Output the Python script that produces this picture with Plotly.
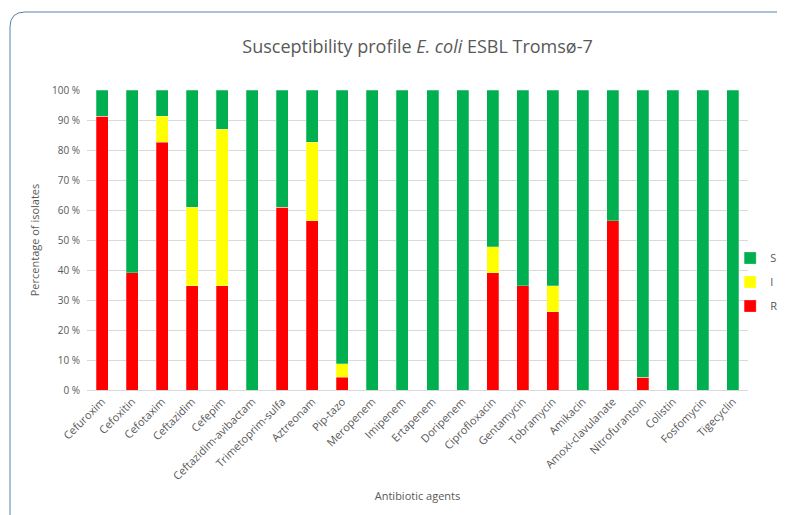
import plotly.graph_objects as go

antibiotics = [
    'Cefuroxim', 'Cefoxitin', 'Cefotaxim', 'Ceftazidim', 'Cefepim',
    'Ceftazidim-avibactam', 'Trimetoprim-sulfa', 'Aztreonam', 'Pip-tazo',
    'Meropenem', 'Imipenem', 'Ertapenem', 'Doripenem', 'Ciprofloxacin',
    'Gentamycin', 'Tobramycin', 'Amikacin', 'Amoxi-clavulanate',
    'Nitrofurantoin', 'Colistin', 'Fosfomycin', 'Tigecyclin',
]

resistant    = [91.3, 39.1, 82.6, 34.8, 34.8, 0, 60.9, 56.5, 4.3, 0, 0, 0, 0, 39.1, 34.8, 26.1, 0, 56.5, 4.3, 0, 0, 0]
intermediate = [0, 0, 8.7, 26.1, 52.2, 0, 0, 26.1, 4.4, 0, 0, 0, 0, 8.7, 0, 8.7, 0, 0, 0, 0, 0, 0]
susceptible  = [8.7, 60.9, 8.7, 39.1, 13.0, 100, 39.1, 17.4, 91.3, 100, 100, 100, 100, 52.2, 65.2, 65.2, 100, 43.5, 95.7, 100, 100, 100]

# name, values, colour, legend rank (S on top like the original)
series = [
    ('R', resistant, '#FF0000', 3),
    ('I', intermediate, '#FFFF00', 2),
    ('S', susceptible, '#00B050', 1),
]

grey = '#595959'
font = 'Open Sans'

# the page puts the figure 8px in from the top/left corner
ml, mt, pw, ph = 79, 82, 661, 300

fig = go.Figure(
    data = [go.Bar(
        name         = name,
        x            = antibiotics,
        y            = values,
        marker_color = color,
        marker_line  = dict(color='rgba(255,255,255,0.5)', width=0.5),
        legendgroup  = name,
        legendrank   = rank)

        for name, values, color, rank in series
    ]
)

fig.update_layout(
    barmode       = 'stack',
    bargap        = 0.6,
    width         = 785,
    height        = 515,
    margin        = dict(l=ml, r=785 - ml - pw, t=mt, b=515 - mt - ph, autoexpand=False),
    paper_bgcolor = 'white',
    plot_bgcolor  = 'white',
    font          = dict(family=font, color=grey, size=10),
    title         = dict(
        text    = 'Susceptibility profile <i>E. coli</i> ESBL Tromsø-7',
        x       = 0.5,
        xref    = 'paper',
        y       = 1 - 39 / 515,
        yanchor = 'middle',
        font    = dict(size=18, color=grey, family=font),
    ),
    legend        = dict(
        x              = 0.973,
        xanchor        = 'left',
        y              = 0.36,
        yanchor        = 'middle',
        traceorder     = 'grouped',
        tracegroupgap  = 5,
        font           = dict(size=11, color=grey),
        bgcolor        = 'rgba(0,0,0,0)',
    ),
    showlegend    = True,
)

fig.update_yaxes(
    range              = [0, 100],
    dtick              = 10,
    ticksuffix         = ' %',
    gridcolor          = '#D9D9D9',
    gridwidth          = 1,
    zeroline           = False,
    showline           = False,
    ticklabelstandoff  = 6,
    tickfont           = dict(size=10, color=grey),
    title              = dict(text='Percentage of isolates', font=dict(size=11, color=grey), standoff=10),
)

fig.update_xaxes(
    tickangle = -45,
    showline  = True,
    linecolor = '#D9D9D9',
    tickfont  = dict(size=11, color=grey),
    title     = dict(text='Antibiotic agents', font=dict(size=11, color=grey), standoff=10),
)

# rounded chart frame (left and top edges only, the rest is cut off)
x0, x1 = (2 - ml) / pw, (800 - ml) / pw
y0, y1 = (mt + ph - 530) / ph, (mt + ph - 4) / ph
rx, ry = 15 / pw, 15 / ph
fig.add_shape(
    type = 'path',
    xref = 'paper',
    yref = 'paper',
    path = (f'M {x0},{y0} L {x0},{y1 - ry} Q {x0},{y1} {x0 + rx},{y1} '
            f'L {x1},{y1}'),
    line = dict(color='#5B7FB0', width=1),
)

fig.write_html('out.html')
